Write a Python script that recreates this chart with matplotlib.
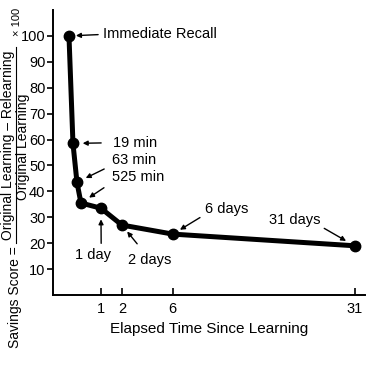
import numpy as np
import matplotlib
matplotlib.use('Agg')
import matplotlib.pyplot as plt
from matplotlib.lines import Line2D

plt.rcParams['font.family'] = ['Liberation Sans', 'DejaVu Sans']

# Ebbinghaus savings curve: elapsed time (days) vs savings score (%)
elapsed_days = [0, 19 / 1440, 63 / 1440, 525 / 1440, 1, 2, 6, 31]
savings = [100, 58.5, 43.5, 35.5, 33.5, 27, 23.5, 19]
point_labels = ['Immediate Recall', '19 min', '63 min', '525 min',
                '1 day', '2 days', '6 days', '31 days']
x_ticks = [1, 2, 6, 31]
y_ticks = list(range(10, 101, 10))

# the time axis in the original is hand-stretched, not linear or log,
# so use a piecewise scale through the marked times
scale_days = [-1] + elapsed_days + [33]
scale_pos = [53, 69, 73, 77, 81, 101, 122, 173, 355, 370]


def fwd(t):
    return np.interp(t, scale_days, scale_pos)


def inv(p):
    return np.interp(p, scale_pos, scale_days)


W, H = 382, 367
fig = plt.figure(figsize=(W / 100, H / 100), dpi=100)
ax = fig.add_axes([53 / W, 72 / H, 312 / W, 285 / H])
ax.set_xscale('function', functions=(fwd, inv))

ax.plot(elapsed_days, savings, color='black', lw=3.6, marker='o', ms=7.5,
        solid_joinstyle='round', solid_capstyle='round', zorder=3)

# label placement: (text offset in px, ha, va, arrow start on text, shrinkA, shrinkB)
notes = [
    ((34, 1.5), 'left', 'center', (0, 0.5), 1.5, 5),
    ((40, 0.7), 'left', 'center', (0, 0.5), 6.5, 7),
    ((35, 22.7), 'left', 'center', (0, 0.1), 4, 7),
    ((31, 26.2), 'left', 'center', (0, 0.1), 4.5, 7),
    ((-8, -47), 'center', 'center', (0.73, 1), 1.5, 8),
    ((28, -35), 'center', 'center', (0.38, 1), 6, 6),
    ((54, 25.3), 'center', 'center', (0, 0.1), 2, 6),
    ((-60, 25.3), 'center', 'center', (1, 0.1), 1, 7),
]
for t, s, lab, (off, ha, va, rp, sa, sb) in zip(elapsed_days, savings, point_labels, notes):
    ax.annotate(lab, xy=(t, s), xytext=off, textcoords='offset pixels',
                ha=ha, va=va, fontsize=10.5,
                arrowprops=dict(arrowstyle='-|>', color='black', lw=1.0,
                                mutation_scale=7, relpos=rp,
                                shrinkA=sa, shrinkB=sb))

ax.set_xlim(-1, 32.4)
ax.set_ylim(0, 110)
ax.set_xticks(x_ticks)
ax.set_yticks(y_ticks)
ax.tick_params(axis='x', direction='in', length=5, width=1.2, pad=5, labelsize=10.5)
ax.tick_params(axis='y', direction='out', length=4, width=1.2, pad=1.5, labelsize=10.5)
for side in ['top', 'right']:
    ax.spines[side].set_visible(False)
for side in ['left', 'bottom']:
    ax.spines[side].set_linewidth(1.4)

ax.set_xlabel('Elapsed Time Since Learning', fontsize=11, labelpad=4)

# y label written as a fraction, built from pieces
rot = dict(rotation=90, ha='center', va='center', fontsize=10)
fig.text(15.5 / W, 1 - 297 / H, 'Savings Score =', **rot)
fig.text(8.5 / W, 1 - 145 / H, 'Original Learning – Relearning', **rot)
fig.text(23 / W, 1 - 147 / H, 'Original Learning', **rot)
fig.add_artist(Line2D([16 / W, 16 / W], [1 - 47 / H, 1 - 243 / H],
                      color='black', lw=0.8, transform=fig.transFigure))
fig.text(17.5 / W, 1 - 22 / H, '× 100', rotation=90, ha='center', va='center', fontsize=8)

fig.savefig('out.png', dpi=100)
